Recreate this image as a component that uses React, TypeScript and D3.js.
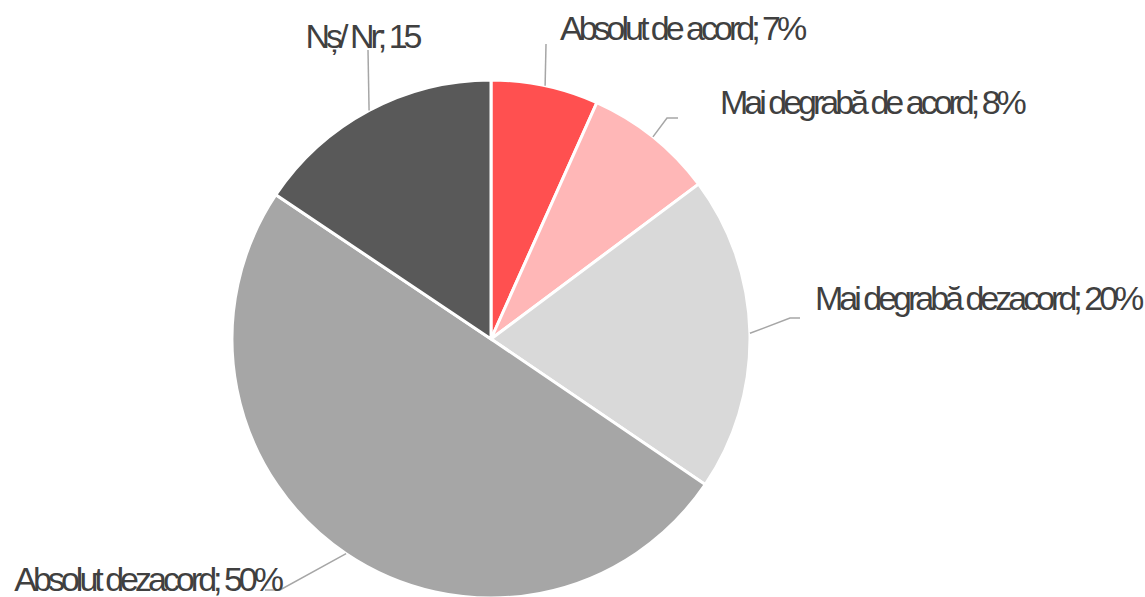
import React from 'react';
import * as d3 from 'd3';

const categories = ['Absolut de acord', 'Mai degrabă de acord', 'Mai degrabă dezacord', 'Absolut dezacord', 'Nș/ Nr'];
const values = [6.7, 8.1, 19.7, 49.9, 15.6];
const valueLabels = ['7%', '8%', '20%', '50%', '15'];
const colors = ['#FF5050', '#FFB7B7', '#D9D9D9', '#A6A6A6', '#595959'];

const width = 1145;
const height = 597;
const cx = 491;
const cy = 339;
const radius = 259;

// leader line per slice: elbow and end point relative to the pie centre, label offset from the end
const leaders = [
  { elbow: [55, -295], end: [55, -295], anchor: 'start', tx: 14, ty: -4 },
  { elbow: [176, -221], end: [187, -221], anchor: 'start', tx: 42, ty: -4 },
  { elbow: [299, -21], end: [309, -21], anchor: 'start', tx: 15, ty: -8 },
  { elbow: [-211, 251], end: [-226, 251], anchor: 'end', tx: 15, ty: 1 },
  { elbow: [-123, -289], end: [-123, -289], anchor: 'middle', tx: -6, ty: -2 },
];

const App = () => {
  const pie = d3.pie<number>().sort(null).value(d => d);
  const arcs = pie(values);
  const arc = d3.arc<d3.PieArcDatum<number>>().innerRadius(0).outerRadius(radius);

  return (
    <svg width={width} height={height} style={{ position: 'absolute', left: 0, top: 0 }}>
      <g transform={`translate(${cx},${cy})`}>
        {arcs.map((a, i) => (
          <path key={i} d={arc(a) || ''} fill={colors[i]} stroke="#fff" strokeWidth={3} />
        ))}
        {arcs.map((a, i) => {
          const mid = (a.startAngle + a.endAngle) / 2;
          const px = radius * Math.sin(mid);
          const py = -radius * Math.cos(mid);
          const l = leaders[i];
          return (
            <polyline
              key={i}
              points={`${px},${py} ${l.elbow[0]},${l.elbow[1]} ${l.end[0]},${l.end[1]}`}
              fill="none"
              stroke="#A6A6A6"
              strokeWidth={1.5}
            />
          );
        })}
        {arcs.map((a, i) => {
          const l = leaders[i];
          return (
            <text
              key={i}
              x={l.end[0] + l.tx}
              y={l.end[1] + l.ty}
              textAnchor={l.anchor}
              fill="#404040"
              fontFamily="'Liberation Sans', Arial, sans-serif"
              fontSize={34}
              letterSpacing={-4}
              style={{ whiteSpace: 'pre' }}
            >
              {`${categories[i]}; ${valueLabels[i]}`}
            </text>
          );
        })}
      </g>
    </svg>
  );
};

export default App;
